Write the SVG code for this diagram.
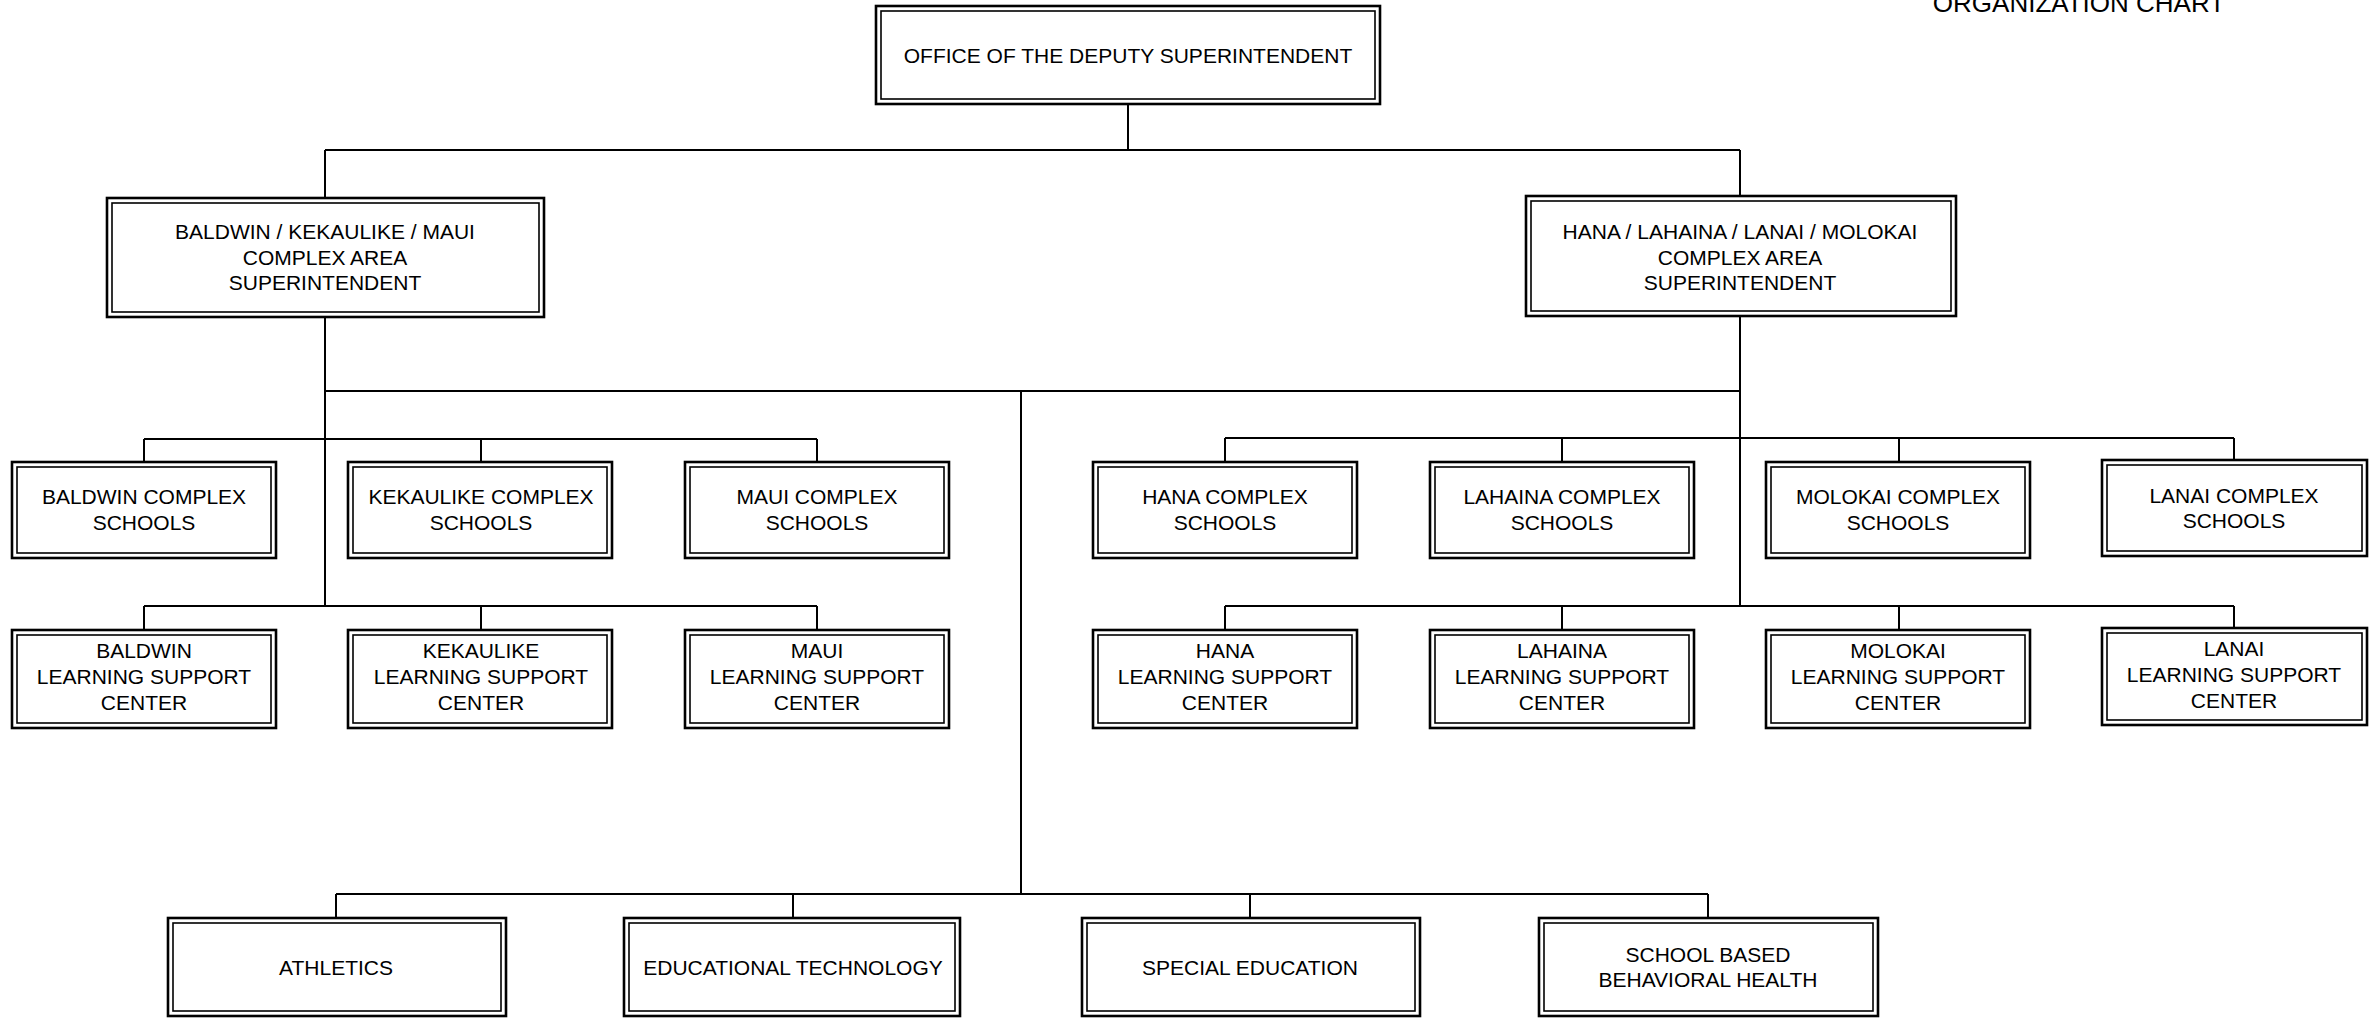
<svg xmlns="http://www.w3.org/2000/svg" width="2379" height="1021" viewBox="0 0 2379 1021">
<style>
.bg{fill:#fff}
.o{fill:#fff;stroke:#000;stroke-width:2.6}
.i{fill:none;stroke:#000;stroke-width:1.6}
.t{font-family:"Liberation Sans",Arial,sans-serif;font-size:21px;fill:#000;text-anchor:middle}
.title{font-family:"Liberation Sans",Arial,sans-serif;font-size:26px;fill:#000;text-anchor:middle}
.c{fill:none;stroke:#000;stroke-width:2}
</style>
<rect class="bg" x="0" y="0" width="2379" height="1021"/>
<text class="title" x="2079" y="12">ORGANIZATION CHART</text>

<g id="connectors">
<path class="c" d="M1128 104V150M325 150H1740M325 150V198M1740 150V196"/>
<path class="c" d="M325 317V607M1740 316V607M325 391H1740M1021 391V894"/>
<path class="c" d="M144 439H817M144 439V462M481 439V462M817 439V462"/>
<path class="c" d="M144 606H817M144 606V630M481 606V630M817 606V630"/>
<path class="c" d="M1225 438H2234M1225 438V462M1562 438V462M1899 438V462M2234 438V460"/>
<path class="c" d="M1225 606H2234M1225 606V630M1562 606V630M1899 606V630M2234 606V628"/>
<path class="c" d="M336 894H1708M336 894V918M793 894V918M1250 894V918M1708 894V918"/>
</g>

<g id="deputy">
<rect class="o" x="876" y="6" width="504" height="98"/><rect class="i" x="881" y="11" width="494" height="88"/>
<text class="t" x="1128" y="63">OFFICE OF THE DEPUTY SUPERINTENDENT</text>
</g>

<g id="sup-left">
<rect class="o" x="107" y="198" width="437" height="119"/><rect class="i" x="112" y="203" width="427" height="109"/>
<text class="t" x="325" y="239">BALDWIN / KEKAULIKE / MAUI</text>
<text class="t" x="325" y="265">COMPLEX AREA</text>
<text class="t" x="325" y="290">SUPERINTENDENT</text>
</g>

<g id="sup-right">
<rect class="o" x="1526" y="196" width="430" height="120"/><rect class="i" x="1531" y="201" width="420" height="110"/>
<text class="t" x="1740" y="239">HANA / LAHAINA / LANAI / MOLOKAI</text>
<text class="t" x="1740" y="265">COMPLEX AREA</text>
<text class="t" x="1740" y="290">SUPERINTENDENT</text>
</g>

<g id="baldwin-schools">
<rect class="o" x="12" y="462" width="264" height="96"/><rect class="i" x="17" y="467" width="254" height="86"/>
<text class="t" x="144" y="504">BALDWIN COMPLEX</text><text class="t" x="144" y="530">SCHOOLS</text>
</g>
<g id="kekaulike-schools">
<rect class="o" x="348" y="462" width="264" height="96"/><rect class="i" x="353" y="467" width="254" height="86"/>
<text class="t" x="481" y="504">KEKAULIKE COMPLEX</text><text class="t" x="481" y="530">SCHOOLS</text>
</g>
<g id="maui-schools">
<rect class="o" x="685" y="462" width="264" height="96"/><rect class="i" x="690" y="467" width="254" height="86"/>
<text class="t" x="817" y="504">MAUI COMPLEX</text><text class="t" x="817" y="530">SCHOOLS</text>
</g>

<g id="baldwin-lsc">
<rect class="o" x="12" y="630" width="264" height="98"/><rect class="i" x="17" y="635" width="254" height="88"/>
<text class="t" x="144" y="658">BALDWIN</text><text class="t" x="144" y="684">LEARNING SUPPORT</text><text class="t" x="144" y="710">CENTER</text>
</g>
<g id="kekaulike-lsc">
<rect class="o" x="348" y="630" width="264" height="98"/><rect class="i" x="353" y="635" width="254" height="88"/>
<text class="t" x="481" y="658">KEKAULIKE</text><text class="t" x="481" y="684">LEARNING SUPPORT</text><text class="t" x="481" y="710">CENTER</text>
</g>
<g id="maui-lsc">
<rect class="o" x="685" y="630" width="264" height="98"/><rect class="i" x="690" y="635" width="254" height="88"/>
<text class="t" x="817" y="658">MAUI</text><text class="t" x="817" y="684">LEARNING SUPPORT</text><text class="t" x="817" y="710">CENTER</text>
</g>

<g id="hana-schools">
<rect class="o" x="1093" y="462" width="264" height="96"/><rect class="i" x="1098" y="467" width="254" height="86"/>
<text class="t" x="1225" y="504">HANA COMPLEX</text><text class="t" x="1225" y="530">SCHOOLS</text>
</g>
<g id="lahaina-schools">
<rect class="o" x="1430" y="462" width="264" height="96"/><rect class="i" x="1435" y="467" width="254" height="86"/>
<text class="t" x="1562" y="504">LAHAINA COMPLEX</text><text class="t" x="1562" y="530">SCHOOLS</text>
</g>
<g id="molokai-schools">
<rect class="o" x="1766" y="462" width="264" height="96"/><rect class="i" x="1771" y="467" width="254" height="86"/>
<text class="t" x="1898" y="504">MOLOKAI COMPLEX</text><text class="t" x="1898" y="530">SCHOOLS</text>
</g>
<g id="lanai-schools">
<rect class="o" x="2102" y="460" width="265" height="96"/><rect class="i" x="2107" y="465" width="255" height="86"/>
<text class="t" x="2234" y="503">LANAI COMPLEX</text><text class="t" x="2234" y="528">SCHOOLS</text>
</g>

<g id="hana-lsc">
<rect class="o" x="1093" y="630" width="264" height="98"/><rect class="i" x="1098" y="635" width="254" height="88"/>
<text class="t" x="1225" y="658">HANA</text><text class="t" x="1225" y="684">LEARNING SUPPORT</text><text class="t" x="1225" y="710">CENTER</text>
</g>
<g id="lahaina-lsc">
<rect class="o" x="1430" y="630" width="264" height="98"/><rect class="i" x="1435" y="635" width="254" height="88"/>
<text class="t" x="1562" y="658">LAHAINA</text><text class="t" x="1562" y="684">LEARNING SUPPORT</text><text class="t" x="1562" y="710">CENTER</text>
</g>
<g id="molokai-lsc">
<rect class="o" x="1766" y="630" width="264" height="98"/><rect class="i" x="1771" y="635" width="254" height="88"/>
<text class="t" x="1898" y="658">MOLOKAI</text><text class="t" x="1898" y="684">LEARNING SUPPORT</text><text class="t" x="1898" y="710">CENTER</text>
</g>
<g id="lanai-lsc">
<rect class="o" x="2102" y="628" width="265" height="97"/><rect class="i" x="2107" y="633" width="255" height="87"/>
<text class="t" x="2234" y="656">LANAI</text><text class="t" x="2234" y="682">LEARNING SUPPORT</text><text class="t" x="2234" y="708">CENTER</text>
</g>

<g id="athletics">
<rect class="o" x="168" y="918" width="338" height="98"/><rect class="i" x="173" y="923" width="328" height="88"/>
<text class="t" x="336" y="975">ATHLETICS</text>
</g>
<g id="edtech">
<rect class="o" x="624" y="918" width="336" height="98"/><rect class="i" x="629" y="923" width="326" height="88"/>
<text class="t" x="793" y="975">EDUCATIONAL TECHNOLOGY</text>
</g>
<g id="special-ed">
<rect class="o" x="1082" y="918" width="338" height="98"/><rect class="i" x="1087" y="923" width="328" height="88"/>
<text class="t" x="1250" y="975">SPECIAL EDUCATION</text>
</g>
<g id="sbbh">
<rect class="o" x="1539" y="918" width="339" height="98"/><rect class="i" x="1544" y="923" width="329" height="88"/>
<text class="t" x="1708" y="962">SCHOOL BASED</text><text class="t" x="1708" y="987">BEHAVIORAL HEALTH</text>
</g>
</svg>
